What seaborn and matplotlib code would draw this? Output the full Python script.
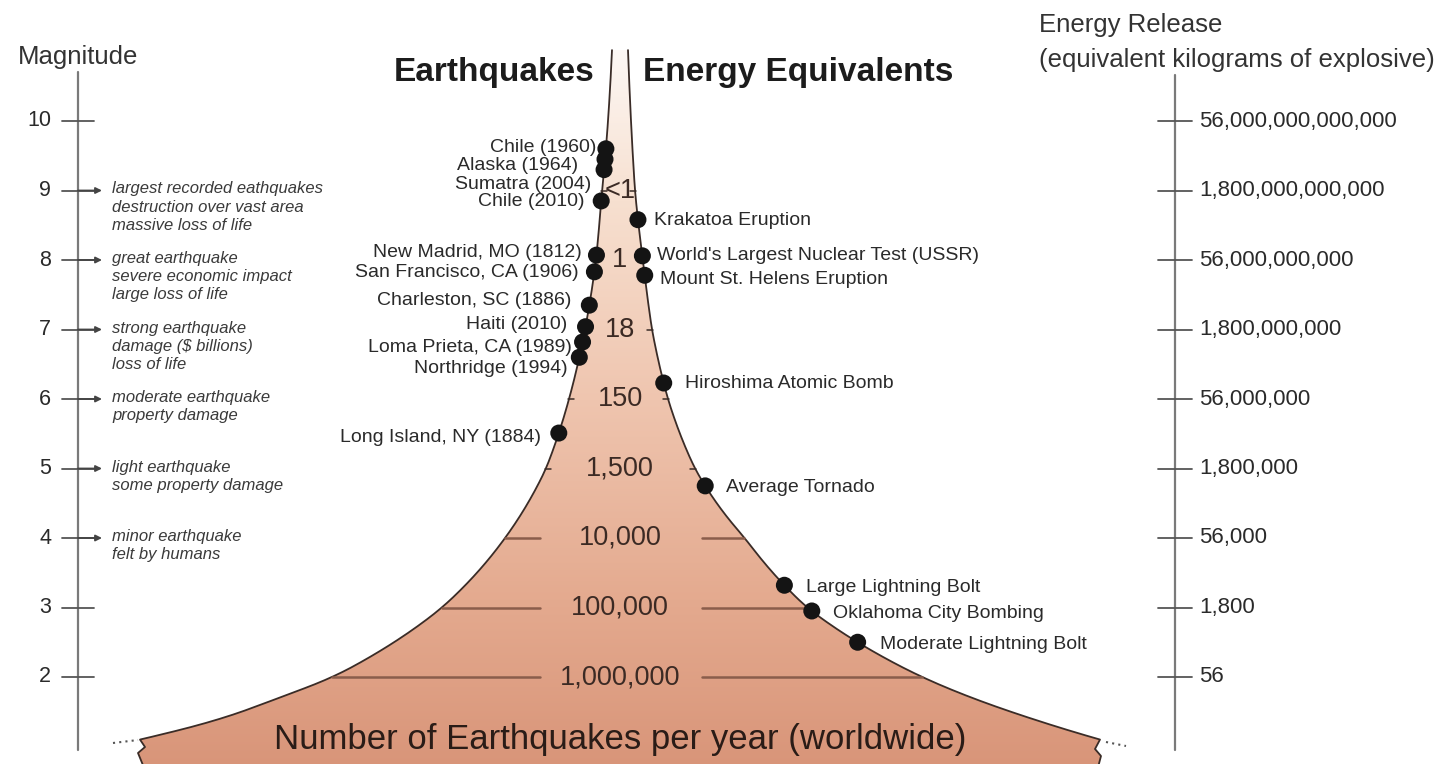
import numpy as np
import pandas as pd
import matplotlib
matplotlib.use("Agg")
import matplotlib.pyplot as plt
from matplotlib.patches import Polygon
import seaborn as sns

# ---- data -----------------------------------------------------------------
magnitudes = [10, 9, 8, 7, 6, 5, 4, 3, 2]
energy_kg = ["56,000,000,000,000", "1,800,000,000,000", "56,000,000,000",
             "1,800,000,000", "56,000,000", "1,800,000", "56,000", "1,800", "56"]

count_mags = [9, 8, 7, 6, 5, 4, 3, 2]
counts_per_year = ["<1", "1", "18", "150", "1,500", "10,000", "100,000", "1,000,000"]

desc_mags = [9, 8, 7, 6, 5, 4]
descriptions = [
    "largest recorded eathquakes\ndestruction over vast area\nmassive loss of life",
    "great earthquake\nsevere economic impact\nlarge loss of life",
    "strong earthquake\ndamage ($ billions)\nloss of life",
    "moderate earthquake\nproperty damage",
    "light earthquake\nsome property damage",
    "minor earthquake\nfelt by humans",
]

quake_names = ["Chile (1960)", "Alaska (1964)", "Sumatra (2004)", "Chile (2010)",
               "New Madrid, MO (1812)", "San Francisco, CA (1906)",
               "Charleston, SC (1886)", "Haiti (2010)", "Loma Prieta, CA (1989)",
               "Northridge (1994)", "Long Island, NY (1884)"]
quake_mags = [9.6, 9.45, 9.3, 8.85, 8.07, 7.83, 7.35, 7.04, 6.82, 6.6, 5.51]

energy_names = ["Krakatoa Eruption", "World's Largest Nuclear Test (USSR)",
                "Mount St. Helens Eruption", "Hiroshima Atomic Bomb",
                "Average Tornado", "Large Lightning Bolt",
                "Oklahoma City Bombing", "Moderate Lightning Bolt"]
energy_mags = [8.58, 8.06, 7.78, 6.23, 4.75, 3.32, 2.95, 2.5]

# ---- layout (pixels) ------------------------------------------------------
W, H = 1456, 764
Y10 = 121          # pixel row of magnitude 10
PX_PER_MAG = 69.5
PX = 1 / PX_PER_MAG


def mag(ypix):
    return 10 - (ypix - Y10) / PX_PER_MAG


CENTER = 620
edge_mags = [1.1, 1.4, 1.7, 2, 3, 4, 5, 6, 7, 8, 9, 10, 11.02]
left_x = [140, 222, 278, 333, 442, 505, 546, 569, 585, 596, 602, 608, 612]
right_x = [1100, 1032, 972, 922, 807, 745, 695, 668, 652, 643, 635, 631, 628]

# smoothed outline, built once on a fine grid (log half-width, box smoothed)
_grid = np.arange(1.1, 11.03, 0.01)
_win = np.ones(31) / 31


def _smooth(xs):
    hw = np.abs(np.array(xs, dtype=float) - CENTER)
    lg = np.interp(_grid, edge_mags, np.log(hw))
    lg = np.convolve(np.pad(lg, 15, mode="reflect", reflect_type="odd"), _win, mode="valid")
    return np.sign(xs[0] - CENTER), lg


_edges = {"L": _smooth(left_x), "R": _smooth(right_x)}


def edge(m, side):
    sign, lg = _edges[side]
    return CENTER + sign * np.exp(np.interp(m, _grid, lg))


# label nudges (dx, dy) in pixels
quake_nudge = [(-10, -1), (-27, 6), (-13, 15), (-17, 1), (-15, -3), (-16, 1),
               (-18, -5), (-18, -2), (-11, 5), (-12, 11), (-18, 4)]
energy_nudge = [(16, 1), (15, 0), (15, 4), (21, 0), (21, 2), (22, 2), (21, 3), (22, 2)]

TXT = "#2a2a2a"
AXC = "#7a7a7a"

sns.set_style("white")
plt.rcParams["font.family"] = ["Liberation Sans", "DejaVu Sans"]

fig = plt.figure(figsize=(W / 100, H / 100), dpi=100)
ax = fig.add_axes([0, 0, 1, 1])
ax.set_xlim(0, W)
ax.set_ylim(mag(H), mag(0))
ax.axis("off")

# ---- funnel ---------------------------------------------------------------
mm = np.linspace(11.02, 1.1, 500)
lx = edge(mm, "L")
rx = edge(mm, "R")
left_tear = [(lx[-1] + 5, mag(747)), (lx[-1] - 2, mag(753)), (lx[-1] + 7, mag(775))]
right_tear = [(rx[-1] - 5, mag(749)), (rx[-1] + 1, mag(756)), (rx[-1] - 4, mag(775))]

outline = list(zip(lx, mm)) + left_tear + right_tear[::-1] + list(zip(rx[::-1], mm[::-1]))
clip = Polygon(outline, closed=True, facecolor="none", edgecolor="none")
ax.add_patch(clip)

stops_y = [45, 200, 400, 600, 775]
stops_rgb = np.array([[253, 248, 245], [247, 224, 208], [239, 197, 175],
                      [228, 170, 143], [216, 148, 120]]) / 255
rows = np.linspace(45, 775, 400)
grad = np.stack([np.interp(rows, stops_y, stops_rgb[:, i]) for i in range(3)], axis=-1)
img = ax.imshow(grad[:, None, :], extent=[100, 1140, mag(775), mag(45)],
                aspect="auto", origin="upper", zorder=1, interpolation="bilinear")
img.set_clip_path(clip)

edge_col = "#3a2c27"
ax.plot(np.r_[lx, [p[0] for p in left_tear]], np.r_[mm, [p[1] for p in left_tear]],
        color=edge_col, lw=1.3, zorder=3)
ax.plot(np.r_[rx, [p[0] for p in right_tear]], np.r_[mm, [p[1] for p in right_tear]],
        color=edge_col, lw=1.3, zorder=3)
ax.plot([lx[-1] - 27, lx[-1] - 2], [mag(743), mag(740)], color="#555", lw=1.5,
        ls=(0, (1, 2)), zorder=3)
ax.plot([rx[-1] + 6, rx[-1] + 26], [mag(742), mag(746)], color="#555", lw=1.5,
        ls=(0, (1, 2)), zorder=3)

# counts per year inside the funnel
for m, lab in zip(count_mags, counts_per_year):
    ax.text(CENTER, m, lab, ha="center", va="center", fontsize=19.5, color="#3b2a24", zorder=4)
    el, er = edge(m, "L"), edge(m, "R")
    if m <= 4:
        ax.plot([el, CENTER - 80], [m, m], color="#8a5d4b", lw=1.8, zorder=3)
        ax.plot([CENTER + 82, er], [m, m], color="#8a5d4b", lw=1.8, zorder=3)
    else:
        ax.plot([el - 1, el + 5], [m, m], color=edge_col, lw=1.1, zorder=3)
        ax.plot([er - 5, er + 1], [m, m], color=edge_col, lw=1.1, zorder=3)

# ---- event dots -------------------------------------------------------------
quakes = pd.DataFrame({"name": quake_names, "magnitude": quake_mags})
quakes["x"] = edge(quakes["magnitude"].values, "L")
energies = pd.DataFrame({"name": energy_names, "magnitude": energy_mags})
energies["x"] = edge(energies["magnitude"].values, "R")

for df in (quakes, energies):
    sns.scatterplot(data=df, x="x", y="magnitude", s=150, color="#141414",
                    edgecolor="none", legend=False, ax=ax, zorder=6)

for (_, r), (dx, dy) in zip(quakes.iterrows(), quake_nudge):
    ax.text(r["x"] + dx, r["magnitude"] - dy * PX, r["name"], ha="right", va="center",
            fontsize=14, color=TXT, zorder=7)
for (_, r), (dx, dy) in zip(energies.iterrows(), energy_nudge):
    ax.text(r["x"] + dx, r["magnitude"] - dy * PX, r["name"], ha="left", va="center",
            fontsize=14, color=TXT, zorder=7)

# ---- magnitude axis ---------------------------------------------------------
AX_L, AX_R = 78, 1175
ax.plot([AX_L, AX_L], [mag(72), mag(750)], color=AXC, lw=1.6, zorder=2)
for m in magnitudes:
    ax.plot([AX_L - 16, AX_L + 16], [m, m], color="#555", lw=1.3, zorder=2)
    ax.text(AX_L - 27, m, str(m), ha="right", va="center", fontsize=15.5, color=TXT)
for m, d in zip(desc_mags, descriptions):
    ax.annotate("", xy=(102, m), xytext=(AX_L, m),
                arrowprops=dict(arrowstyle="-|>", color="#444", lw=1.3,
                                mutation_scale=9, shrinkA=0, shrinkB=0))
    ax.text(112, m + 9 * PX, d, ha="left", va="top", fontsize=12, style="italic",
            color="#3a3a3a", linespacing=1.25)
ax.text(AX_L, mag(57), "Magnitude", ha="center", va="center", fontsize=18.5, color="#333")

# ---- energy axis -------------------------------------------------------------
ax.plot([AX_R, AX_R], [mag(75), mag(750)], color=AXC, lw=1.6, zorder=2)
for m, lab in zip(magnitudes, energy_kg):
    ax.plot([AX_R - 17, AX_R + 17], [m, m], color="#555", lw=1.3, zorder=2)
    ax.text(AX_R + 24, m, lab, ha="left", va="center", fontsize=16, color=TXT)
ax.text(1039, mag(25), "Energy Release", ha="left", va="center", fontsize=18.5, color="#333")
ax.text(1039, mag(60), "(equivalent kilograms of explosive)", ha="left", va="center",
        fontsize=18.5, color="#333")

# ---- titles ------------------------------------------------------------------
ax.text(595, mag(73), "Earthquakes", ha="right", va="center", fontsize=24,
        fontweight="bold", color="#1c1c1c")
ax.text(643, mag(73), "Energy Equivalents", ha="left", va="center", fontsize=24,
        fontweight="bold", color="#1c1c1c")
ax.text(CENTER, mag(740), "Number of Earthquakes per year (worldwide)", ha="center",
        va="center", fontsize=25, color="#2a1c17", zorder=4)

fig.savefig("out.png", dpi=100)
